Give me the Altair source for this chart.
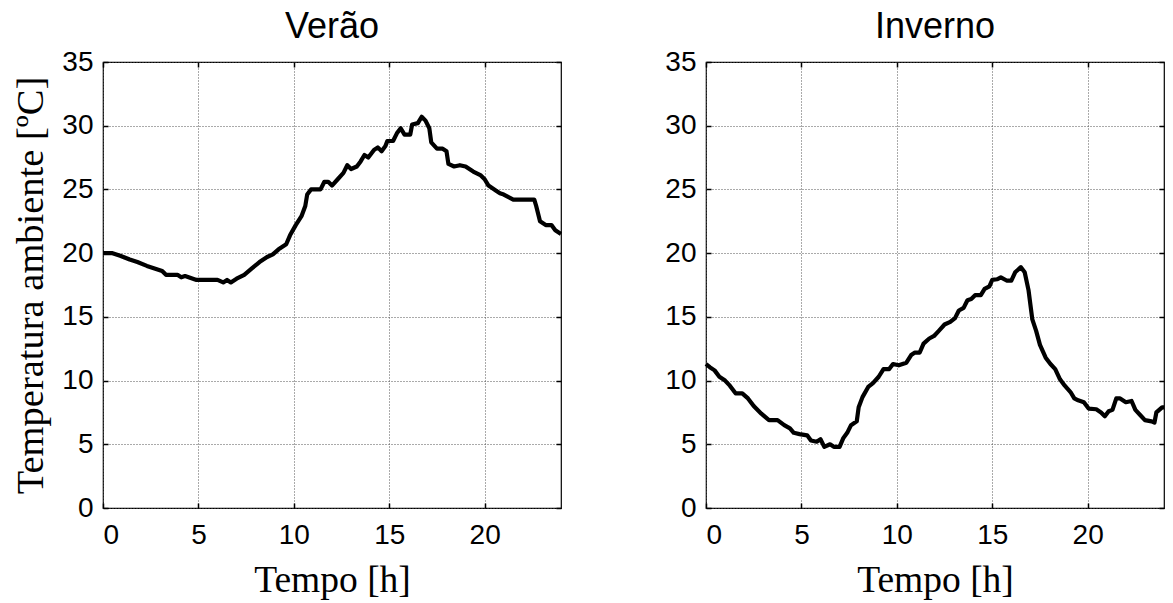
import altair as alt
import pandas as pd

# Summer (Verão) ambient temperature over one day
verao_h = [0.0, 0.5, 0.9, 1.4, 1.8, 2.3, 2.7, 3.1, 3.3, 3.9, 4.1, 4.3, 4.9, 6.0, 6.3, 6.5,
           6.7, 7.0, 7.4, 7.8, 8.2, 8.6, 8.9, 9.2, 9.6, 9.8, 10.1, 10.4, 10.6, 10.7, 10.9,
           11.4, 11.6, 11.8, 12.0, 12.3, 12.6, 12.8, 13.0, 13.3, 13.5, 13.7, 13.9, 14.2,
           14.4, 14.6, 14.8, 14.9, 15.2, 15.4, 15.6, 15.8, 16.1, 16.2, 16.5, 16.7, 16.9,
           17.1, 17.2, 17.5, 17.8, 18.0, 18.1, 18.4, 18.7, 19.0, 19.4, 19.8, 20.0, 20.2,
           20.6, 20.8, 21.0, 21.5, 22.6, 22.7, 22.9, 23.2, 23.5, 23.7, 24.0]
verao_t = [20.0, 20.0, 19.8, 19.5, 19.3, 19.0, 18.8, 18.6, 18.3, 18.3, 18.1, 18.2, 17.9,
           17.9, 17.7, 17.9, 17.7, 18.0, 18.3, 18.8, 19.3, 19.7, 19.9, 20.3, 20.7, 21.4,
           22.2, 22.9, 23.7, 24.6, 25.0, 25.0, 25.6, 25.6, 25.3, 25.8, 26.3, 26.9, 26.6,
           26.8, 27.2, 27.7, 27.5, 28.1, 28.3, 28.0, 28.4, 28.8, 28.8, 29.4, 29.8, 29.3,
           29.3, 30.1, 30.2, 30.7, 30.4, 29.8, 28.7, 28.2, 28.2, 28.0, 27.0, 26.8, 26.9,
           26.8, 26.4, 26.1, 25.8, 25.3, 24.9, 24.7, 24.6, 24.2, 24.2, 23.7, 22.5, 22.2,
           22.2, 21.8, 21.5]

# Winter (Inverno) ambient temperature over one day
inverno_h = [0.0, 0.2, 0.45, 0.7, 1.0, 1.25, 1.55, 1.9, 2.2, 2.5, 2.9, 3.3, 3.75, 4.1,
             4.4, 4.6, 4.9, 5.3, 5.5, 5.8, 6.0, 6.2, 6.5, 6.7, 7.0, 7.2, 7.4, 7.6, 7.9,
             8.0, 8.2, 8.5, 8.75, 9.05, 9.3, 9.6, 9.8, 10.1, 10.5, 10.75, 10.95, 11.2,
             11.4, 11.7, 11.95, 12.2, 12.5, 12.8, 13.05, 13.25, 13.5, 13.7, 13.9, 14.1,
             14.4, 14.6, 14.85, 15.0, 15.25, 15.45, 15.75, 16.0, 16.2, 16.5, 16.7, 16.9,
             17.1, 17.3, 17.5, 17.8, 18.05, 18.3, 18.55, 18.8, 19.1, 19.3, 19.5, 19.8,
             20.05, 20.45, 20.7, 20.9, 21.1, 21.3, 21.5, 21.7, 22.0, 22.3, 22.5, 22.75,
             23.0, 23.35, 23.5, 23.6, 23.9, 24.0]
inverno_t = [11.3, 11.05, 10.8, 10.3, 10.0, 9.6, 9.0, 9.0, 8.6, 8.0, 7.4, 6.9, 6.9, 6.5,
             6.25, 5.9, 5.8, 5.7, 5.3, 5.2, 5.4, 4.8, 5.0, 4.8, 4.8, 5.5, 5.9, 6.5, 6.8,
             7.9, 8.7, 9.5, 9.8, 10.3, 10.9, 10.9, 11.3, 11.2, 11.4, 12.0, 12.2, 12.2,
             12.9, 13.3, 13.5, 13.9, 14.4, 14.6, 14.9, 15.5, 15.7, 16.3, 16.4, 16.7,
             16.7, 17.2, 17.4, 17.9, 17.95, 18.1, 17.85, 17.85, 18.5, 18.9, 18.5, 17.1,
             14.8, 13.9, 12.8, 11.8, 11.3, 10.9, 10.1, 9.6, 9.1, 8.6, 8.45, 8.3, 7.8,
             7.75, 7.5, 7.2, 7.6, 7.7, 8.6, 8.6, 8.3, 8.4, 7.7, 7.3, 6.9, 6.8, 6.7, 7.5,
             7.9, 7.9]

x_ticks = [0, 5, 10, 15, 20]
y_ticks = [0, 5, 10, 15, 20, 25, 30, 35]

W, H = 458, 446
SANS = "Liberation Sans"
SERIF = "Liberation Serif"


def panel(hours, temps, title, y_title):
    df = pd.DataFrame({"h": hours, "t": temps})
    base = alt.Chart(df)
    xs = alt.Scale(domain=[0, 24], nice=False, zero=False)
    ys = alt.Scale(domain=[0, 35], nice=False)

    # main curve with labelled bottom/left axes and dotted grid
    ax_common = dict(
        domain=False, ticks=False, tickSize=0, grid=True,
        gridColor="#555555", gridDash=[1, 2], gridWidth=1,
        labelFont=SANS, labelFontSize=28, labelColor="black",
    )
    y_axis = alt.Axis(values=y_ticks, labelPadding=10, title=y_title,
                      titleFont=SERIF, titleFontSize=38.5, titleFontWeight="normal",
                      titleColor="black", titlePadding=11, **ax_common)
    line = base.mark_line(color="black", strokeWidth=4.2, strokeJoin="round").encode(
        x=alt.X("h:Q", scale=xs,
                axis=alt.Axis(values=x_ticks, labelPadding=13, title="Tempo [h]",
                              titleFont=SERIF, titleFontSize=37.5,
                              titleFontWeight="normal", titleColor="black",
                              titlePadding=12, **ax_common)),
        y=alt.Y("t:Q", scale=ys, axis=y_axis),
    )

    # inward tick marks on all four sides of the box
    tick_common = dict(labels=False, domain=False, grid=False, ticks=True,
                       tickSize=5, tickColor="black", tickWidth=1.5, offset=-5,
                       title="")
    inner_bl = base.mark_line(strokeOpacity=0).encode(
        x=alt.X("h:Q", scale=xs, axis=alt.Axis(orient="bottom", values=x_ticks, **tick_common)),
        y=alt.Y("t:Q", scale=ys, axis=alt.Axis(orient="left", values=y_ticks, **tick_common)),
    )
    inner_tr = base.mark_line(strokeOpacity=0).encode(
        x=alt.X("h:Q", scale=xs, axis=alt.Axis(orient="top", values=x_ticks, **tick_common)),
        y=alt.Y("t:Q", scale=ys, axis=alt.Axis(orient="right", values=y_ticks, **tick_common)),
    )

    return (
        alt.layer(line, inner_bl, inner_tr)
        .resolve_axis(x="independent", y="independent")
        .properties(
            width=W, height=H,
            title=alt.Title(title, font=SANS, fontSize=36, fontWeight="normal",
                            color="black", anchor="middle", offset=2),
        )
    )


left = panel(verao_h, verao_t, "Verão", "Temperatura ambiente [ºC]")
right = panel(inverno_h, inverno_t, "Inverno", "")

chart = (
    alt.hconcat(left, right, spacing=100)
    .properties(padding={"left": 11, "top": 8, "right": 5, "bottom": 5}, background="white")
    .configure_view(stroke="black", strokeWidth=1.2)
)

chart.save("out.html", embed_options={"renderer": "svg", "actions": False})
